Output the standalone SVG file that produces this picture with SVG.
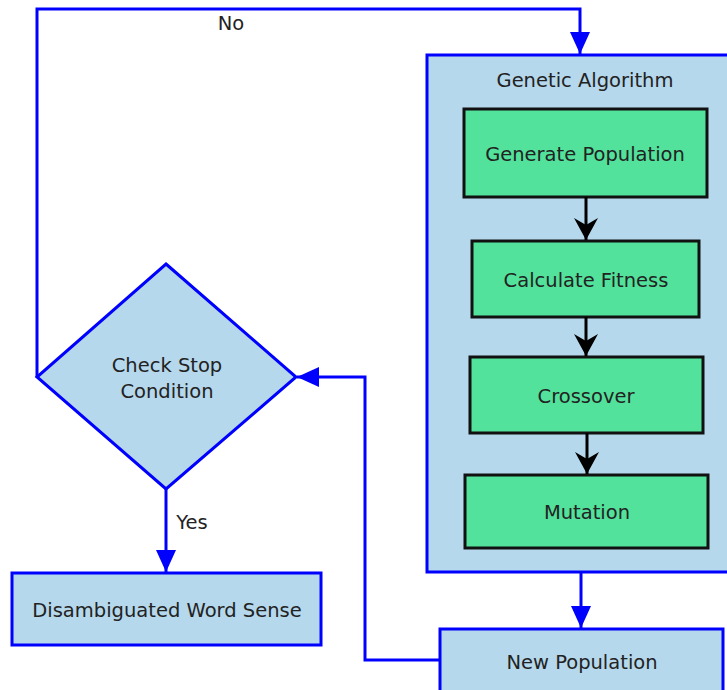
<svg xmlns="http://www.w3.org/2000/svg" width="727" height="690" viewBox="0 0 727 690">
<defs>
<style>
.t{font-family:"DejaVu Sans",Verdana,sans-serif;font-size:19.5px;fill:#222;text-anchor:middle;dominant-baseline:central}
.blue{fill:#b5d8ec;stroke:#0000ff;stroke-width:3}
.green{fill:#52e29b;stroke:#111;stroke-width:3}
.cb{fill:none;stroke:#0000ff;stroke-width:3}
.ck{fill:none;stroke:#000;stroke-width:3}
</style>
<marker id="ab" markerWidth="24" markerHeight="20" refX="22" refY="10" orient="auto" markerUnits="userSpaceOnUse"><path d="M0,0 L22,10 L0,20 Z" fill="#0000ff"/></marker>
<marker id="ak" markerWidth="24" markerHeight="26" refX="22" refY="13" orient="auto" markerUnits="userSpaceOnUse"><path d="M0,1 L22,13 L0,25 L7,13 Z" fill="#000"/></marker>
</defs>
<g id="ga">
<rect class="blue" x="427" y="55" width="310" height="517"/>
<text class="t" x="585" y="80">Genetic Algorithm</text>
</g>
<g id="gen"><rect class="green" x="464" y="109" width="243" height="88"/><text class="t" x="585" y="154">Generate Population</text></g>
<g id="fit"><rect class="green" x="472" y="241" width="227" height="76"/><text class="t" x="586" y="280">Calculate Fitness</text></g>
<g id="cross"><rect class="green" x="470" y="357" width="233" height="76"/><text class="t" x="586" y="396">Crossover</text></g>
<g id="mut"><rect class="green" x="465" y="475" width="243" height="73"/><text class="t" x="587" y="512">Mutation</text></g>
<g id="newpop"><rect class="blue" x="440" y="629" width="283" height="70"/><text class="t" x="582" y="662">New Population</text></g>
<g id="check"><polygon class="blue" points="166,264 296,377 166,489 37,377"/><text class="t" x="167" y="365">Check Stop</text><text class="t" x="167" y="391">Condition</text></g>
<g id="dws"><rect class="blue" x="12" y="573" width="309" height="72"/><text class="t" x="167" y="610">Disambiguated Word Sense</text></g>
<g id="connectors">
<path class="ck" d="M586,197 V240" marker-end="url(#ak)"/>
<path class="ck" d="M586,317 V356" marker-end="url(#ak)"/>
<path class="ck" d="M587,433 V474" marker-end="url(#ak)"/>
<path class="cb" d="M37,377 V9 H580 V54" marker-end="url(#ab)"/>
<path class="cb" d="M581,572 V628" marker-end="url(#ab)"/>
<path class="cb" d="M440,660 H365 V377 H297" marker-end="url(#ab)"/>
<path class="cb" d="M166,489 V572" marker-end="url(#ab)"/>
<text class="t" x="231" y="23">No</text>
<text class="t" x="192" y="522">Yes</text>
</g>
</svg>
